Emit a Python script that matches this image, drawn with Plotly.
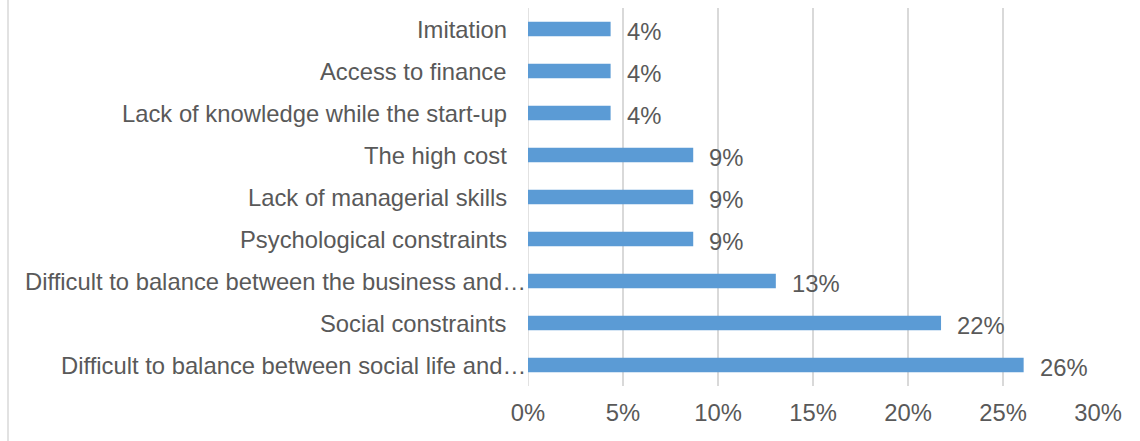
import plotly.graph_objects as go

# Barriers faced, share of respondents (n = 23), listed top to bottom
categories = [
    "Imitation",
    "Access to finance",
    "Lack of knowledge while the start-up",
    "The high cost",
    "Lack of managerial skills",
    "Psychological constraints",
    "Difficult to balance between the business and…",
    "Social constraints",
    "Difficult to balance between social life and…",
]
shares = [1 / 23, 1 / 23, 1 / 23, 2 / 23, 2 / 23, 2 / 23, 3 / 23, 5 / 23, 6 / 23]
x_ticks = [0, 0.05, 0.10, 0.15, 0.20, 0.25, 0.30]
x_tick_labels = ["0%", "5%", "10%", "15%", "20%", "25%", "30%"]

BAR = "#5B9BD5"
TEXT = "#595959"
GRID = "#D9D9D9"
FONT = "Liberation Sans, Arial, sans-serif"
SIZE = 23.8

fig = go.Figure(
    go.Bar(
        x=shares,
        y=categories,
        orientation="h",
        marker=dict(color=BAR, line=dict(width=0)),
        width=0.35,
        hoverinfo="skip",
    )
)

# Value labels just past the end of each bar
for cat, val in zip(categories, shares):
    fig.add_annotation(
        x=val, y=cat, xref="x", yref="y",
        text=f"{val:.0%}", showarrow=False,
        xanchor="left", yanchor="middle", xshift=14, yshift=-2,
        font=dict(family=FONT, size=SIZE, color=TEXT),
    )

# Category labels; truncated ones run right up to the axis
for cat in categories:
    fig.add_annotation(
        x=0, y=cat, xref="paper", yref="y",
        text=cat, showarrow=False,
        xanchor="right", yanchor="middle",
        xshift=0 if cat.endswith("…") else -19,
        font=dict(family=FONT, size=SIZE, color=TEXT),
    )

# Left edge of the chart frame
fig.add_shape(
    type="line", xref="paper", yref="paper",
    x0=(8 - 528) / 570, x1=(8 - 528) / 570, y0=-1, y1=2,
    line=dict(color=GRID, width=1.5),
)

fig.update_layout(
    width=1140, height=441,
    margin=dict(l=528, r=42, t=8, b=55),
    paper_bgcolor="white", plot_bgcolor="white",
    showlegend=False, bargap=0.65,
    font=dict(family=FONT, size=SIZE, color=TEXT),
    xaxis=dict(
        range=[0, 0.30], tickvals=x_ticks, ticktext=x_tick_labels,
        showgrid=True, gridcolor=GRID, gridwidth=1.5,
        zeroline=False, showline=False, ticks="",
        tickfont=dict(family=FONT, size=SIZE, color=TEXT),
        ticklabelstandoff=10,
    ),
    yaxis=dict(
        categoryorder="array", categoryarray=categories[::-1],
        range=[-0.5, len(categories) - 0.5],
        showticklabels=False, showgrid=False, zeroline=False,
        showline=False, ticks="",
    ),
)

# 0% axis line drawn like the gridlines
fig.add_shape(
    type="line", xref="x", yref="paper", x0=0, x1=0, y0=0, y1=1,
    line=dict(color=GRID, width=1.5), layer="below",
)

fig.write_html("out.html")
